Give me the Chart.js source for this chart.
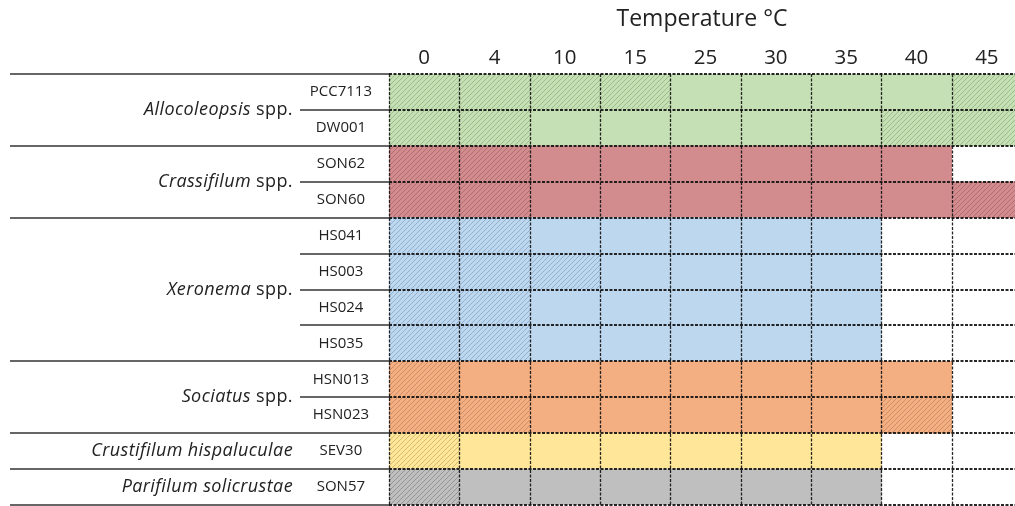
<!DOCTYPE html>
<html>
<head>
<meta charset="utf-8">
<script src="https://cdn.jsdelivr.net/npm/chart.js@4/dist/chart.umd.min.js"></script>
<style>
  html, body { margin: 0; padding: 0; background: #fff; overflow: hidden; }
  canvas { display: block; }
</style>
</head>
<body>
<canvas id="growthChart" width="1015" height="506"></canvas>
<script>
// Incubation temperatures (°C)
const temperatures = ['0', '4', '10', '15', '25', '30', '35', '40', '45'];

// Strains, top to bottom
const strains = ['PCC7113', 'DW001', 'SON62', 'SON60', 'HS041', 'HS003', 'HS024', 'HS035',
                 'HSN013', 'HSN023', 'SEV30', 'SON57'];

// Taxa and how many consecutive strains belong to each
const genusNames    = ['Allocoleopsis', 'Crassifilum', 'Xeronema', 'Sociatus',
                       'Crustifilum hispaluculae', 'Parifilum solicrustae'];
const genusSuffixes = [' spp.', ' spp.', ' spp.', ' spp.', '', ''];
const genusSizes    = [2, 2, 4, 2, 1, 1];
const genusFill     = ['#c5e0b4', '#d38c8e', '#bdd7ee', '#f3ae81', '#ffe699', '#bfbfbf'];
const genusHatch    = ['#93b27f', '#a86769', '#86a6c8', '#c58660', '#c9b26a', '#8a8a8a'];

// Growth per strain and temperature: 0 = none, 1 = weak (hatched), 2 = good (solid)
const growth = [
  [1, 1, 1, 1, 2, 2, 2, 2, 1], // PCC7113
  [1, 1, 2, 2, 2, 2, 2, 1, 1], // DW001
  [1, 1, 2, 2, 2, 2, 2, 2, 0], // SON62
  [1, 1, 2, 2, 2, 2, 2, 2, 1], // SON60
  [1, 1, 2, 2, 2, 2, 2, 0, 0], // HS041
  [1, 1, 1, 2, 2, 2, 2, 0, 0], // HS003
  [1, 1, 2, 2, 2, 2, 2, 0, 0], // HS024
  [1, 1, 2, 2, 2, 2, 2, 0, 0], // HS035
  [1, 2, 2, 2, 2, 2, 2, 2, 0], // HSN013
  [1, 1, 2, 2, 2, 2, 2, 1, 0], // HSN023
  [1, 2, 2, 2, 2, 2, 2, 0, 0], // SEV30
  [1, 2, 2, 2, 2, 2, 2, 0, 0]  // SON57
];

const FONT = '"Open Sans", "Noto Sans", sans-serif';
const INK = '#222';

// genus index for every strain row
const strainGenus = [];
genusSizes.forEach((n, g) => { for (let i = 0; i < n; i++) strainGenus.push(g); });

// diagonal hatch fill for weak growth
function makeHatch(fill, ink) {
  const s = 5;
  const c = document.createElement('canvas');
  c.width = s; c.height = s;
  const g = c.getContext('2d');
  g.fillStyle = fill;
  g.fillRect(0, 0, s, s);
  g.strokeStyle = ink;
  g.lineWidth = 0.8;
  g.beginPath();
  g.moveTo(-1, s + 1); g.lineTo(s + 1, -1);
  g.moveTo(-1, 1);     g.lineTo(1, -1);
  g.moveTo(s - 1, s + 1); g.lineTo(s + 1, s - 1);
  g.stroke();
  return g.createPattern(c, 'repeat');
}
const hatchFills = genusFill.map((f, i) => makeHatch(f, genusHatch[i]));

// one floating-bar dataset per temperature column
const datasets = temperatures.map((t, col) => ({
  label: t + ' °C',
  data: strains.map((s, row) => growth[row][col] > 0 ? [col - 0.5, col + 0.5] : null),
  backgroundColor: ctx => {
    const row = ctx.dataIndex;
    const g = strainGenus[row];
    return growth[row][col] === 1 ? hatchFills[g] : genusFill[g];
  },
  borderWidth: 0,
  borderSkipped: false,
  barPercentage: 1,
  categoryPercentage: 1,
  grouped: false
}));

// dashed cell grid, taxon labels and separators
const tablePlugin = {
  id: 'tablePlugin',
  afterDatasetsDraw(chart) {
    const { ctx, chartArea: a, scales: { x, y } } = chart;
    const rowH = Math.abs(y.getPixelForValue(1) - y.getPixelForValue(0));
    const rowTop = i => y.getPixelForValue(i) - rowH / 2;

    ctx.save();
    // grid
    ctx.strokeStyle = 'rgba(15,15,15,0.9)';
    ctx.setLineDash([3, 1.5]);
    ctx.lineWidth = 1.3;
    for (let c = 0; c <= temperatures.length; c++) {
      const px = Math.round(x.getPixelForValue(c - 0.5)) + 0.5;
      ctx.beginPath(); ctx.moveTo(px, a.top); ctx.lineTo(px, a.bottom); ctx.stroke();
    }
    ctx.lineWidth = 1.8;
    for (let r = 0; r <= strains.length; r++) {
      const py = Math.round(rowTop(r));
      ctx.beginPath(); ctx.moveTo(a.left, py); ctx.lineTo(a.right, py); ctx.stroke();
    }
    ctx.setLineDash([]);

    // taxon separators and labels
    ctx.strokeStyle = '#333';
    ctx.lineWidth = 1.6;
    const labelRight = 293;
    let start = 0;
    const hline = (x0, r) => {
      const py = Math.round(rowTop(r));
      ctx.beginPath(); ctx.moveTo(x0, py); ctx.lineTo(a.left, py); ctx.stroke();
    };
    hline(10, 0);
    if ('letterSpacing' in ctx) ctx.letterSpacing = '0.4px';
    genusSizes.forEach((n, g) => {
      for (let k = 1; k < n; k++) hline(300, start + k);
      hline(10, start + n);
      const cy = (rowTop(start) + rowTop(start + n)) / 2;
      ctx.fillStyle = INK;
      ctx.textBaseline = 'middle';
      ctx.textAlign = 'right';
      ctx.font = '18px ' + FONT;
      const suffix = genusSuffixes[g];
      const sw = suffix ? ctx.measureText(suffix).width : 0;
      if (suffix) ctx.fillText(suffix, labelRight, cy);
      ctx.font = 'italic 18px ' + FONT;
      ctx.fillText(genusNames[g], labelRight - sw, cy);
      start += n;
    });
    ctx.restore();
  }
};

new Chart(document.getElementById('growthChart'), {
  type: 'bar',
  data: { labels: strains, datasets },
  options: {
    indexAxis: 'y',
    responsive: false,
    animation: false,
    layout: { padding: { left: 289, right: 0, top: 0, bottom: 1 } },
    plugins: { legend: { display: false }, tooltip: { enabled: false } },
    scales: {
      x: {
        type: 'linear',
        position: 'top',
        min: -0.5,
        max: 8.4,
        grid: { display: false },
        border: { display: false },
        ticks: {
          stepSize: 1,
          includeBounds: false,
          autoSkip: false,
          maxRotation: 0,
          padding: -4,
          color: INK,
          font: { family: FONT, size: 20.5 },
          callback: v => temperatures[v] ?? ''
        },
        title: {
          display: true,
          text: 'Temperature °C',
          color: INK,
          font: { family: FONT, size: 23 },
          padding: { top: 6, bottom: 0 }
        },
        afterFit: s => { s.height = 74; }
      },
      y: {
        type: 'category',
        grid: { display: false },
        border: { display: false },
        ticks: {
          crossAlign: 'center',
          padding: 9,
          color: INK,
          font: { family: FONT, size: 15 }
        },
        afterFit: s => { s.width = 100; s.paddingTop = 0; s.paddingBottom = 0; }
      }
    }
  },
  plugins: [tablePlugin]
});
</script>
</body>
</html>
